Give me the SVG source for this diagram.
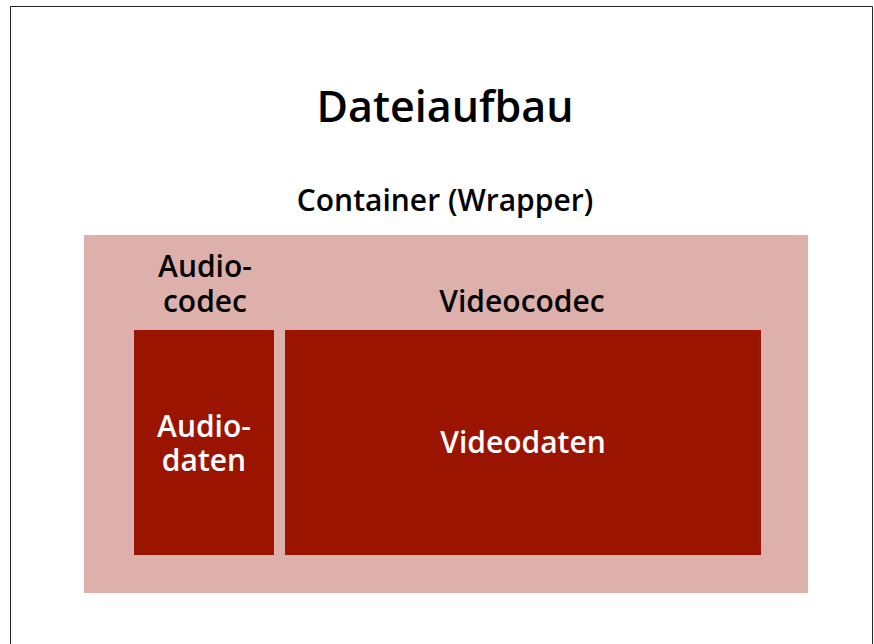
<svg xmlns="http://www.w3.org/2000/svg" width="874" height="644" viewBox="0 0 874 644">
<style>
.t{font-family:"Open Sans","Noto Sans","DejaVu Sans",sans-serif;text-anchor:middle;font-weight:600}
.s{font-size:30px}
.dk{fill:#000}
.wh{fill:#fff}
</style>
<rect width="874" height="644" fill="#fff"/>
<path d="M10.5 644 V6.5 H872.5 V644" fill="none" stroke="#222" stroke-width="1"/>
<g id="title"><text class="t dk" x="445" y="122" font-size="43">Dateiaufbau</text></g>
<g id="container">
<rect x="84" y="235" width="724" height="358" fill="#DEB0AB"/>
<text class="t s dk" x="445" y="211">Container (Wrapper)</text>
</g>
<g id="audiocodec">
<text class="t s dk" x="205" y="277">Audio-<tspan x="205" y="312">codec</tspan></text>
</g>
<g id="videocodec"><text class="t s dk" x="522" y="312">Videocodec</text></g>
<g id="audiodaten">
<rect x="134" y="330" width="140" height="225" fill="#9A1400"/>
<text class="t s wh" x="204" y="437">Audio-<tspan x="204" y="471">daten</tspan></text>
</g>
<g id="videodaten">
<rect x="285" y="330" width="476" height="225" fill="#9A1400"/>
<text class="t s wh" x="523" y="453">Videodaten</text>
</g>
<g id="connectors"/>
</svg>
